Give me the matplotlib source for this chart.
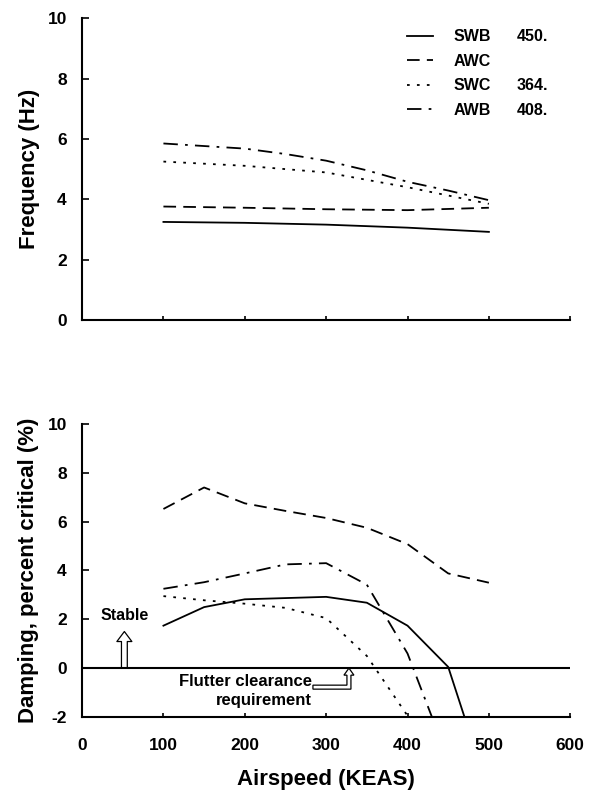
import matplotlib
matplotlib.use("Agg")
import matplotlib.pyplot as plt
from matplotlib.patches import FancyArrowPatch, Polygon
from matplotlib.lines import Line2D
from matplotlib.transforms import ScaledTranslation

plt.rcParams['font.family'] = ['Liberation Sans', 'DejaVu Sans']
plt.rcParams['font.weight'] = 'bold'
plt.rcParams['axes.unicode_minus'] = False

# ---- Data ----
names = ["SWB", "AWC", "SWC", "AWB"]
flutter_speeds = ["450.", " ", "364.", "408."]

freq_x = [100, 200, 300, 400, 500]
freq_swb = [3.25, 3.22, 3.16, 3.06, 2.92]
freq_awc = [3.76, 3.72, 3.67, 3.64, 3.72]
freq_swc = [5.25, 5.11, 4.89, 4.40, 3.85]
freq_awb_x = [100, 200, 250, 300, 350, 400, 450, 500]
freq_awb = [5.85, 5.68, 5.50, 5.28, 4.96, 4.58, 4.29, 3.97]

swb_x = [100, 150, 200, 300, 350, 400, 450, 470]
swb_d = [1.74, 2.50, 2.82, 2.92, 2.68, 1.74, 0.05, -2.0]
awc_x = [100, 150, 200, 250, 300, 350, 400, 450, 500]
awc_d = [6.52, 7.40, 6.75, 6.44, 6.15, 5.75, 5.08, 3.88, 3.50]
swc_x = [100, 150, 200, 250, 300, 350, 400]
swc_d = [2.95, 2.78, 2.64, 2.47, 2.05, 0.50, -1.95]
awb_x = [100, 150, 200, 250, 300, 350, 400, 430]
awb_d = [3.25, 3.52, 3.88, 4.25, 4.30, 3.42, 0.60, -2.0]

xticks = [0, 100, 200, 300, 400, 500, 600]

# ---- Styles ----
styles = {
    "SWB": dict(linestyle='-'),
    "AWC": dict(linestyle=(0, (7, 4))),
    "SWC": dict(linestyle=(0, (1.5, 4))),
    "AWB": dict(linestyle=(0, (8, 4, 1.5, 4))),
}
lw = 1.3

fig = plt.figure(figsize=(5.99, 7.94), dpi=100)
ax1 = fig.add_axes([0.137, 0.597, 0.815, 0.38])
ax2 = fig.add_axes([0.137, 0.097, 0.815, 0.369])

for ax in (ax1, ax2):
    for s in ('top', 'right'):
        ax.spines[s].set_visible(False)
    ax.spines['left'].set_linewidth(1.5)
    ax.spines['bottom'].set_linewidth(1.5)
    ax.tick_params(axis='y', direction='in', length=5, width=1.2, labelsize=12.5, pad=11)
    ax.tick_params(axis='x', direction='in', length=3, width=1.2, labelsize=12.5, pad=15)
    ax.set_xlim(0, 600)
    ax.set_xticks(xticks)

# Top: frequency
h = []
h += ax1.plot(freq_x, freq_swb, color='black', lw=lw, **styles["SWB"])
h += ax1.plot(freq_x, freq_awc, color='black', lw=lw, **styles["AWC"])
h += ax1.plot(freq_x, freq_swc, color='black', lw=lw, **styles["SWC"])
h += ax1.plot(freq_awb_x, freq_awb, color='black', lw=lw, **styles["AWB"])
ax1.set_ylim(0, 10)
ax1.set_yticks([0, 2, 4, 6, 8, 10])
ax1.tick_params(axis='x', labelbottom=False)
ax1.set_ylabel("Frequency (Hz)", fontsize=16, fontweight='bold', labelpad=5)

leg_kw = dict(loc='upper left', frameon=False, fontsize=11.5, borderpad=0,
              borderaxespad=0, labelspacing=0.6)
leg = ax1.legend(h, names, bbox_to_anchor=(0.666, 0.964), handlelength=1.63,
                 handletextpad=1.25, **leg_kw)
ax1.add_artist(leg)
blank = [Line2D([], [], color='none') for _ in flutter_speeds]
ax1.legend(blank, flutter_speeds, bbox_to_anchor=(0.891, 0.964), handlelength=0,
           handletextpad=0, **leg_kw)

# Bottom: damping
ax2.plot(swb_x, swb_d, color='black', lw=lw, **styles["SWB"])
ax2.plot(awc_x, awc_d, color='black', lw=lw, **styles["AWC"])
ax2.plot(swc_x, swc_d, color='black', lw=lw, **styles["SWC"])
ax2.plot(awb_x, awb_d, color='black', lw=lw, **styles["AWB"])
ax2.axhline(0, color='black', lw=1.5)
ax2.set_ylim(-2, 10)
ax2.set_yticks([-2, 0, 2, 4, 6, 8, 10])
ax2.set_xlabel("Airspeed (KEAS)", fontsize=16, fontweight='bold', labelpad=12)
ax2.set_ylabel("Damping, percent critical (%)", fontsize=16, fontweight='bold', labelpad=6)

ax2.text(52, 2.15, "Stable", fontsize=11.5, fontweight='bold', ha='center', va='center')
ax2.add_patch(FancyArrowPatch((52, 0.0), (52, 1.5),
              arrowstyle='simple,head_width=0.9,head_length=0.6,tail_width=0.35',
              mutation_scale=12, fc='white', ec='black', lw=0.9, shrinkA=0, shrinkB=0))
ax2.text(283, -0.94, "Flutter clearance\nrequirement", fontsize=12, fontweight='bold',
         ha='right', va='center', multialignment='right', linespacing=1.35)

# bent hollow arrow (pixel-offset shape anchored at the tip on the zero line)
px = 1 / 100.0
bent = [(0, 0), (5, -7), (2, -7), (2, -21), (-36, -21), (-36, -17),
        (-2, -17), (-2, -7), (-5, -7)]
bent = [(x * px, y * px) for x, y in bent]
tr = fig.dpi_scale_trans + ScaledTranslation(328, 0, ax2.transData)
ax2.add_patch(Polygon(bent, closed=True, transform=tr, fc='white', ec='black',
                      lw=0.9, zorder=5))

fig.savefig("out.png", dpi=100)
